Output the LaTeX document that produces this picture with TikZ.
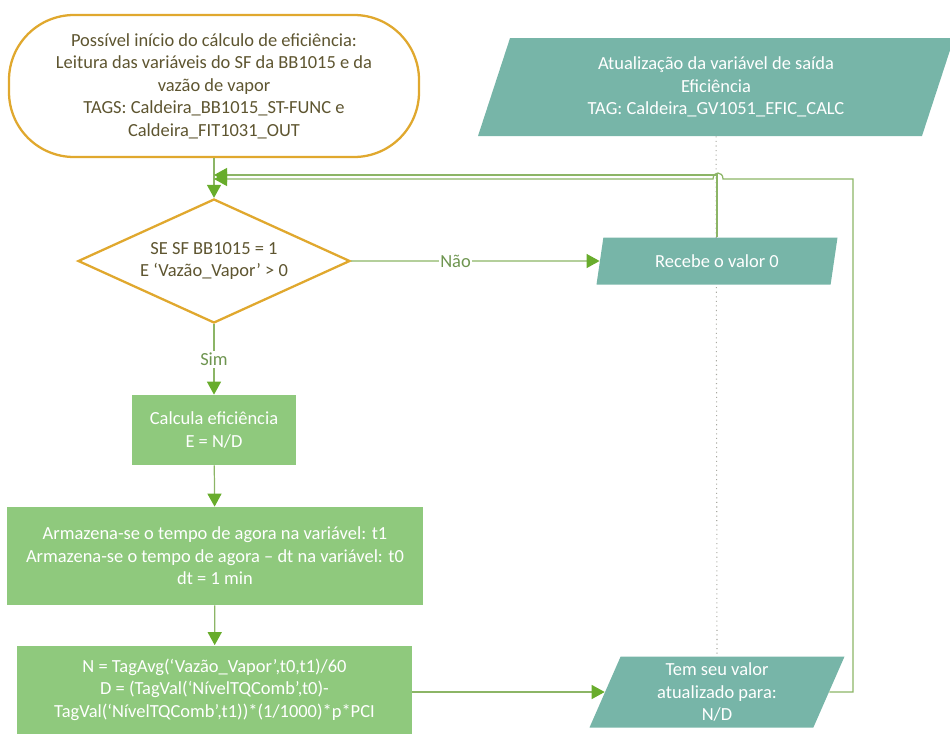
\documentclass[tikz,border=0pt]{standalone}
\usepackage{fontspec}
\setmainfont{Carlito}
\usetikzlibrary{shapes.geometric,arrows.meta,backgrounds}
\usepackage{xcolor}
\definecolor{Gold}{HTML}{E0A82E}
\definecolor{DarkOlive}{HTML}{5E5530}
\definecolor{Teal}{HTML}{77B5A8}
\definecolor{LeafGreen}{HTML}{8FC97D}
\definecolor{LineGreen}{HTML}{8CB566}
\definecolor{TipGreen}{HTML}{68AC2C}
\definecolor{LabelGreen}{HTML}{6E9550}
\definecolor{DotGray}{HTML}{A8A8A0}

\begin{document}
\begin{tikzpicture}[
      x=0.2mm, y=-0.2mm,
      every node/.style={font=\fontsize{10.5}{12.8}\selectfont, align=center},
      startbox/.style={draw=Gold, line width=1.3pt, fill=white, rounded corners=1.3cm, minimum width=8.2cm, minimum height=2.84cm, text=DarkOlive},
      decision/.style={diamond, aspect=2.2, draw=Gold, line width=1.3pt, fill=white, minimum width=5.44cm, minimum height=2.48cm, inner sep=0pt, text=DarkOlive},
      procbox/.style={fill=LeafGreen, text=white, inner sep=0pt},
      iobox/.style={trapezium, trapezium left angle=62, trapezium right angle=118, trapezium stretches body, fill=Teal, text=white, inner sep=0pt},
      arrow/.style={draw=LineGreen, line width=0.7pt, -{Triangle[length=2.6mm, width=2.8mm, color=TipGreen, fill=TipGreen]}},
      answer/.style={fill=white, text=LabelGreen, inner sep=1pt}
    ]
    \useasboundingbox (0,0) rectangle (950,734);

    \node[startbox] (start) at (214,86) {Possível início do cálculo de eficiência:\\Leitura das variáveis do SF da BB1015 e da\\vazão de vapor\\TAGS: Caldeira\_BB1015\_ST-FUNC e\\Caldeira\_FIT1031\_OUT};
    \node[decision] (check) at (214,261) {SE SF BB1015 = 1\\E ‘Vazão\_Vapor’ > 0};
    \node[procbox, minimum width=3.28cm, minimum height=1.4cm] (calc) at (214,430) {Calcula eficiência\\E = N/D};
    \node[procbox, minimum width=8.32cm, minimum height=1.96cm] (times) at (215,556) {Armazena-se o tempo de agora na variável: t1\\Armazena-se o tempo de agora -- dt na variável: t0\\dt = 1 min};
    \node[procbox, minimum width=7.9cm, minimum height=1.76cm] (ratio) at (214.5,689.5) {N = TagAvg(‘Vazão\_Vapor’,t0,t1)/60\\D = (TagVal(‘NívelTQComb’,t0)-\\TagVal(‘NívelTQComb’,t1))*(1/1000)*p*PCI};

    \node[iobox, minimum width=9.52cm, minimum height=1.96cm] (output) at (716,87) {Atualização da variável de saída\\Eficiência\\TAG: Caldeira\_GV1051\_EFIC\_CALC};
    \node[iobox, minimum width=4.82cm, minimum height=0.94cm] (zero) at (717,261) {Recebe o valor 0};
    \node[iobox, minimum width=5.1cm, minimum height=1.42cm] (update) at (717,692) {Tem seu valor\\atualizado para:\\N/D};

    \coordinate (joinA) at (214,175);
    \coordinate (joinB) at (214,179);
    \coordinate (turn) at (853,179);
    \coordinate (hopR) at (723,179);
    \coordinate (hopL) at (713,179);

    \begin{scope}[on background layer]
      \draw[dotted, DotGray, line width=0.6pt] (output.south) -- (update.north);
    \end{scope}

    \draw[arrow] (start) -- (check);
    \draw[arrow] (check.east) -- node[answer, pos=0.42] {Não} (zero.west);
    \draw[arrow] (check) -- node[answer] {Sim} (calc);
    \draw[arrow] (calc) -- (times);
    \draw[arrow] (times) -- (ratio);
    \draw[arrow] (ratio.east |- update.west) -- (update.west);
    \draw[arrow] (zero.north) |- (joinA);
    \draw[arrow] (update.east) -| (turn) -- (hopR) .. controls (723,171) and (713,171) .. (hopL) -- (joinB);
  \end{tikzpicture}
\end{document}
